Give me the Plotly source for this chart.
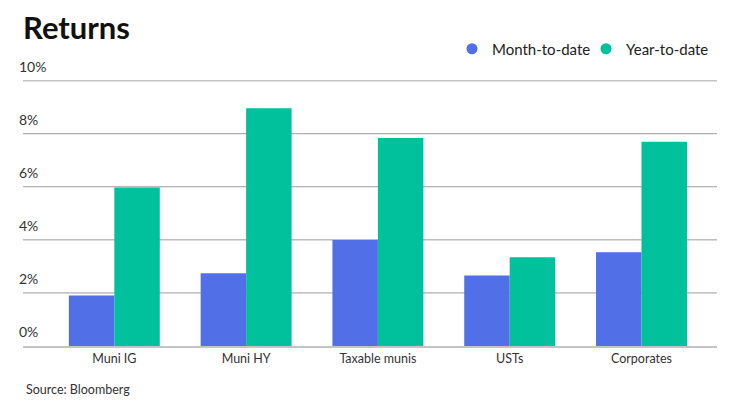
import plotly.graph_objects as go

categories = ["Muni IG", "Muni HY", "Taxable munis", "USTs", "Corporates"]
month_to_date = [1.90, 2.74, 3.99, 2.66, 3.53]
year_to_date = [5.97, 8.96, 7.84, 3.34, 7.70]
tick_values = [0, 2, 4, 6, 8, 10]
tick_labels = ["0%", "2%", "4%", "6%", "8%", "10%"]

series_names = ["Month-to-date", "Year-to-date"]
colors = ["#5170E8", "#00C19B"]
FONT = "Lato, 'Open Sans', sans-serif"

# page body has an 8px margin: figure drawn at (8,8) in the window
W, H = 732, 408
ML, MR, MT, MB = 15, 23, 66, 70
PH = H - MT - MB

fig = go.Figure()
for name, vals, col in zip(series_names, [month_to_date, year_to_date], colors):
    fig.add_trace(go.Bar(x=categories, y=vals, name=name, marker=dict(color=col, line=dict(width=0)),
                         showlegend=False, hoverinfo="skip"))
for name, col in zip(series_names, colors):
    fig.add_trace(go.Scatter(x=[None], y=[None], mode="markers", name=name,
                             marker=dict(symbol="circle", size=11, color=col)))

shapes = []
annotations = []
for v, lab in zip(tick_values, tick_labels):
    if v != 0:
        shapes.append(dict(type="line", xref="paper", yref="y", x0=0, x1=1, y0=v, y1=v,
                           line=dict(color="#c4c4c4" if v == 10 else "#9c9c9c", width=1.5 if v == 10 else 1),
                           layer="below"))
    annotations.append(dict(text=lab, xref="paper", yref="y", x=(9.3 - ML) / (W - ML - MR), y=v,
                            xanchor="left", yanchor="bottom", yshift=4, showarrow=False,
                            font=dict(family=FONT, size=14, color="#333333")))

annotations.append(dict(text="Source: Bloomberg", xref="paper", yref="paper", x=0.001,
                        y=(H - MB - 381) / PH, xanchor="left", yanchor="middle", showarrow=False,
                        font=dict(family=FONT, size=12.5, color="#333333")))

fig.update_layout(
    width=W, height=H,
    margin=dict(l=ML, r=MR, t=MT, b=MB),
    paper_bgcolor="white", plot_bgcolor="white",
    barmode="group", bargap=0.31, bargroupgap=0,
    title=dict(text="<b>Returns</b>", x=0.0, xref="paper", xanchor="left",
               y=1 - 20 / H, yref="container", yanchor="middle",
               font=dict(family=FONT, size=31, color="#111111")),
    legend=dict(orientation="h", xanchor="left", x=(452 - 8 - ML) / (W - ML - MR), yanchor="middle",
                y=1 + (MT - 41) / PH, font=dict(family=FONT, size=15, color="#222222"),
                entrywidth=89, entrywidthmode="pixels",
                bgcolor="rgba(0,0,0,0)", itemclick=False),
    xaxis=dict(range=[-0.693, 4.573], showgrid=False, showline=True, linecolor="#c4c4c4",
               linewidth=1.5, ticks="", tickfont=dict(family=FONT, size=12.5, color="#333333"),
               fixedrange=True),
    yaxis=dict(range=[0, 10.25], showgrid=False, zeroline=False, showticklabels=False,
               fixedrange=True),
    shapes=shapes,
    annotations=annotations,
)

fig.write_html("out.html")
